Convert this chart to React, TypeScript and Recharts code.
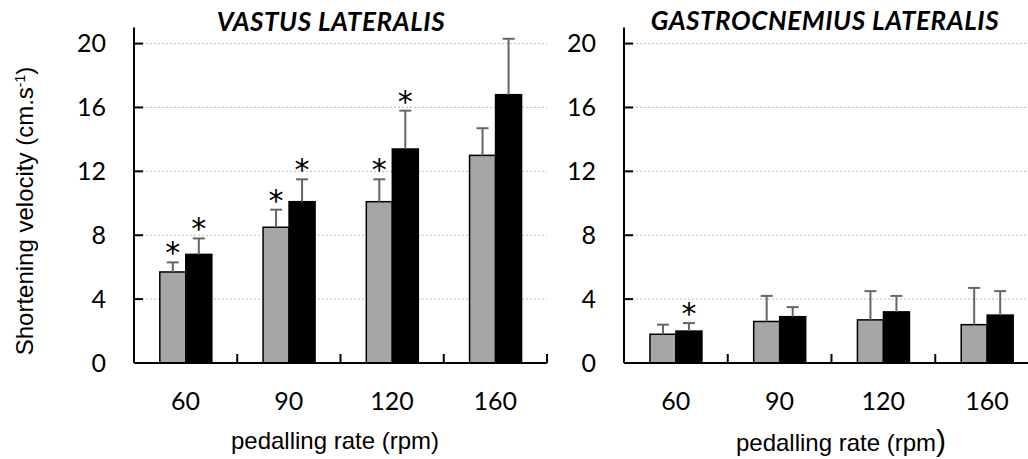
import React from "react";
import { BarChart, Bar, XAxis, YAxis, CartesianGrid } from "recharts";

// pedalling rates (categories)
const rates = ["60", "90", "120", "160"];
const yTicks = [0, 4, 8, 12, 16, 20];
const gridValues = [4, 8, 12, 16, 20];

// vastus lateralis
const vlGray = [5.7, 8.5, 10.1, 13.0];
const vlGrayErr = [0.6, 1.1, 1.4, 1.7];
const vlGraySig = [true, true, true, false];
const vlBlack = [6.8, 10.1, 13.4, 16.8];
const vlBlackErr = [1.0, 1.4, 2.4, 3.5];
const vlBlackSig = [true, true, true, false];

// gastrocnemius lateralis
const glGray = [1.8, 2.6, 2.7, 2.4];
const glGrayErr = [0.6, 1.6, 1.8, 2.3];
const glGraySig = [false, false, false, false];
const glBlack = [2.0, 2.9, 3.2, 3.0];
const glBlackErr = [0.5, 0.6, 1.0, 1.5];
const glBlackSig = [true, false, false, false];

const buildRows = (a, aErr, aSig, b, bErr, bSig) =>
  rates.map((r, i) => ({
    rate: r,
    a: a[i],
    aErr: aErr[i],
    aSig: aSig[i],
    b: b[i],
    bErr: bErr[i],
    bSig: bSig[i],
  }));

const vlRows = buildRows(vlGray, vlGrayErr, vlGraySig, vlBlack, vlBlackErr, vlBlackSig);
const glRows = buildRows(glGray, glGrayErr, glGraySig, glBlack, glBlackErr, glBlackSig);

// bar + one-sided error bar + significance star
const ErrShape = (props: any) => {
  const { x, y, width, height, fill, payload, valKey, errKey, sigKey } = props;
  const v = payload[valKey];
  const perUnit = v ? height / v : 0;
  const cx = x + width / 2;
  const top = y - payload[errKey] * perUnit;
  return (
    <g>
      <rect x={x} y={y} width={width} height={height} fill={fill} stroke="#000" strokeWidth={1.5} />
      <line x1={cx} y1={y} x2={cx} y2={top} stroke="#666" strokeWidth={2} />
      <line x1={cx - 6} x2={cx + 6} y1={top} y2={top} stroke="#666" strokeWidth={2} />
      {payload[sigKey] && (
        <text x={cx} y={top + 1} textAnchor="middle" fontSize={30} fontFamily="DejaVu Sans" fill="#000">
          *
        </text>
      )}
    </g>
  );
};

const XTick = (props: any) => {
  const { x, y, payload, width, visibleTicksCount } = props;
  const edge = x + width / visibleTicksCount / 2;
  return (
    <g>
      <text x={x} y={y + 47} textAnchor="middle" fontFamily="Lato" fontSize={25} fill="#000">
        {payload.value}
      </text>
      <line x1={edge} x2={edge} y1={y} y2={y - 9} stroke="#000" strokeWidth={2} />
    </g>
  );
};

const YTick = (props: any) => {
  const { x, y, payload } = props;
  return (
    <g>
      <text x={x - 28} y={y + 8.5} textAnchor="end" fontFamily="Lato" fontSize={25} fill="#000">
        {payload.value}
      </text>
      <line x1={x} x2={x + 9} y1={y} y2={y} stroke="#000" strokeWidth={2} />
    </g>
  );
};

const Panel = ({ rows, width, yWidth, marginRight }: any) => (
  <BarChart
    width={width}
    height={459}
    data={rows}
    margin={{ top: 27.6, right: marginRight, left: 0, bottom: 0 }}
    barCategoryGap="25%"
    barGap={0}
  >
    <CartesianGrid
      horizontal
      vertical={false}
      horizontalValues={gridValues}
      stroke="#bdbdbd"
      strokeDasharray="2 2"
    />
    <XAxis
      dataKey="rate"
      height={96}
      axisLine={{ stroke: "#000", strokeWidth: 2 }}
      tickLine={false}
      tickSize={0}
      tickMargin={0}
      interval={0}
      tick={<XTick />}
    />
    <YAxis
      width={yWidth}
      domain={[0, 21]}
      ticks={yTicks}
      interval={0}
      axisLine={{ stroke: "#000", strokeWidth: 2 }}
      tickLine={false}
      tickSize={0}
      tickMargin={0}
      tick={<YTick />}
    />
    <Bar
      dataKey="a"
      fill="#a6a6a6"
      isAnimationActive={false}
      shape={(p: any) => <ErrShape {...p} valKey="a" errKey="aErr" sigKey="aSig" />}
    />
    <Bar
      dataKey="b"
      fill="#000"
      isAnimationActive={false}
      shape={(p: any) => <ErrShape {...p} valKey="b" errKey="bErr" sigKey="bSig" />}
    />
  </BarChart>
);

const abs = (left: number, top: number, extra: any = {}) => ({
  position: "absolute" as const,
  left,
  top,
  transform: "translate(-50%, -50%)",
  whiteSpace: "nowrap" as const,
  lineHeight: 1,
  ...extra,
});

const titleStyle = { fontFamily: "Lato", fontWeight: 700, fontStyle: "italic", fontSize: 26, letterSpacing: 0.6 };
const axisTitleStyle = { fontFamily: "Liberation Sans", fontSize: 24 };

export default function App() {
  return (
    <div style={{ position: "absolute", left: 0, top: 0, width: 1028, height: 459, overflow: "hidden", background: "#fff" }}>
      <div style={{ position: "absolute", left: 0, top: 0 }}>
        <Panel rows={vlRows} width={580} yWidth={134} marginRight={33} />
      </div>
      <div style={{ position: "absolute", left: 540, top: 0 }}>
        <Panel rows={glRows} width={499} yWidth={84} marginRight={0} />
      </div>
      <div style={abs(331, 21, titleStyle)}>VASTUS LATERALIS</div>
      <div style={abs(825, 20, titleStyle)}>GASTROCNEMIUS LATERALIS</div>
      <div style={abs(335, 441, axisTitleStyle)}>pedalling rate (rpm)</div>
      <div style={abs(841, 441, axisTitleStyle)}>
        pedalling rate (rpm<span style={{ fontSize: 30 }}>)</span>
      </div>
      <div style={abs(25, 211, { ...axisTitleStyle, transform: "translate(-50%, -50%) rotate(-90deg)" })}>
        Shortening velocity (cm.s<span style={{ fontSize: 14, verticalAlign: "8px" }}>-1</span>)
      </div>
    </div>
  );
}
